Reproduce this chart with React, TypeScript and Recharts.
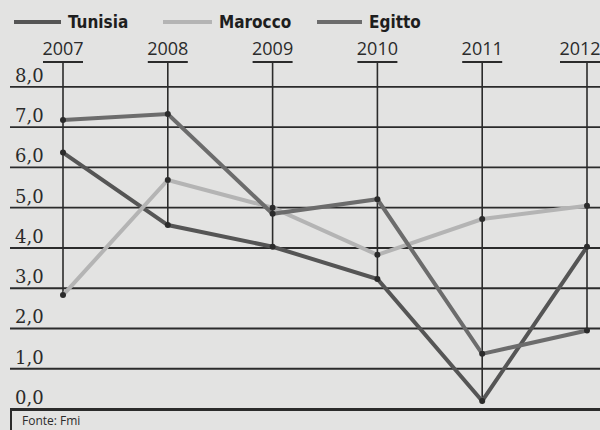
import { LineChart, Line, XAxis, YAxis, ReferenceLine } from "recharts"

// anni e valori (crescita del Pil, %)
const years = ["2007", "2008", "2009", "2010", "2011", "2012"]
const tunisia = [6.37, 4.57, 4.03, 3.23, 0.2, 4.03]
const marocco = [2.83, 5.69, 5.0, 3.83, 4.72, 5.05]
const egitto = [7.18, 7.33, 4.85, 5.21, 1.37, 1.95]
const yTicks = [0, 1, 2, 3, 4, 5, 6, 7, 8]

const series = [
  { key: "tunisia", name: "Tunisia", values: tunisia, color: "#555555" },
  { key: "marocco", name: "Marocco", values: marocco, color: "#b4b4b4" },
  { key: "egitto", name: "Egitto", values: egitto, color: "#6c6c6c" },
]

const data = years.map((year, i) => ({
  year,
  tunisia: tunisia[i],
  marocco: marocco[i],
  egitto: egitto[i],
}))

const TOP = 8.62
const INK = "#2b2b2b"

const YearTick = (props: any) => {
  const { x, y, payload, index } = props
  const last = index === years.length - 1
  return (
    <g>
      <text
        x={last ? x - 7 : x}
        y={y - 7}
        textAnchor="middle"
        fontFamily="'Open Sans', 'Noto Sans', sans-serif"
        fontSize={18}
        fill={INK}
      >
        {payload.value}
      </text>
      <line x1={last ? x - 27 : x - 20} x2={x + 20} y1={y} y2={y} stroke={INK} strokeWidth={2} />
    </g>
  )
}

export default function App() {
  return (
    <div style={{ position: "relative", width: 600, height: 430, background: "#e3e3e2", overflow: "hidden" }}>
      <style>{`body{margin:0}`}</style>

      <div style={{ position: "absolute", top: 12, left: 0, height: 20 }}>
        {series.map((s, i) => (
          <div
            key={s.key}
            style={{
              position: "absolute",
              left: [14, 163, 317][i],
              top: 0,
              display: "flex",
              alignItems: "center",
              whiteSpace: "nowrap",
            }}
          >
            <span style={{ display: "inline-block", width: [47, 49, 45][i], height: 4, background: s.color }} />
            <span
              style={{
                marginLeft: 7,
                fontFamily: "'DejaVu Sans Condensed', 'Liberation Sans Narrow', 'Roboto', sans-serif",
                fontStretch: "condensed",
                fontWeight: 700,
                fontSize: 17,
                color: "#1e1e1e",
              }}
            >
              {s.name}
            </span>
          </div>
        ))}
      </div>

      <LineChart
        width={600}
        height={430}
        data={data}
        margin={{ top: 0, right: 0, left: 10, bottom: 21 }}
        style={{ position: "absolute", top: 0, left: 0 }}
      >
        <XAxis
          dataKey="year"
          orientation="top"
          height={62}
          axisLine={false}
          tickLine={false}
          tickSize={0}
          tickMargin={0}
          padding={{ left: 53, right: 13 }}
          tick={<YearTick />}
          interval={0}
        />
        <YAxis domain={[0, TOP]} ticks={yTicks} width={0} hide allowDataOverflow />
        {yTicks.map((v) => (
          <ReferenceLine
            key={"g" + v}
            y={v}
            stroke={INK}
            strokeWidth={1.8}
            label={{
              value: v.toFixed(1).replace(".", ","),
              position: "insideBottomLeft",
              offset: 5,
              fill: INK,
              fontSize: 18,
              fontFamily: "'DejaVu Serif', 'Liberation Serif', serif",
            }}
          />
        ))}
        {years.map((year, i) => (
          <ReferenceLine
            key={year}
            segment={[
              { x: year, y: Math.min(tunisia[i], marocco[i], egitto[i]) },
              { x: year, y: TOP },
            ]}
            stroke={INK}
            strokeWidth={1.6}
          />
        ))}
        {series.map((s) => (
          <Line
            key={s.key}
            dataKey={s.key}
            name={s.name}
            type="linear"
            stroke={s.color}
            strokeWidth={4}
            dot={{ r: 3, fill: INK, stroke: "none" }}
            activeDot={false}
            isAnimationActive={false}
          />
        ))}
      </LineChart>

      <div
        style={{
          position: "absolute",
          top: 409,
          left: 10,
          right: 0,
          bottom: 0,
          borderLeft: `2px solid ${INK}`,
          borderTop: `2px solid ${INK}`,
        }}
      >
        <span
          style={{
            position: "absolute",
            left: 10,
            top: 2,
            lineHeight: "16px",
            fontFamily: "'Open Sans', 'Noto Sans', sans-serif",
            fontSize: 12,
            color: INK,
          }}
        >
          Fonte: Fmi
        </span>
      </div>
    </div>
  )
}
